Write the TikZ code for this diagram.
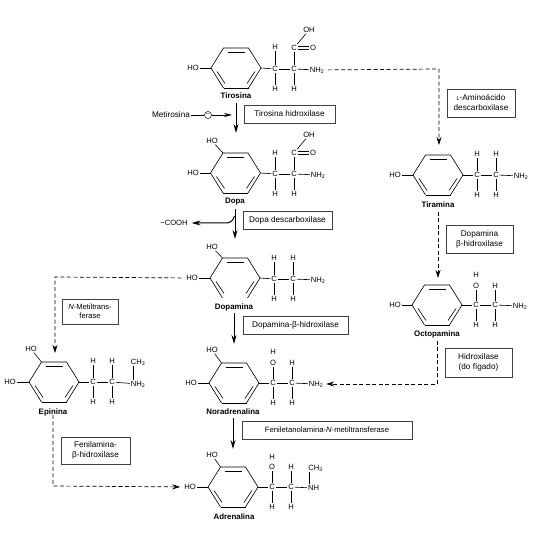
\documentclass[tikz,border=0pt]{standalone}
\usepackage{fontspec}
\usetikzlibrary{arrows.meta}
\setmainfont{Liberation Sans}
\tikzset{
  atom/.style={inner sep=0.8pt, font=\fontsize{7.6}{8}\selectfont},
  molname/.style={inner sep=1pt, font=\fontsize{7.9}{8}\selectfont\bfseries},
  enzyme/.style={draw=black!75, line width=0.8pt, inner sep=1pt, align=center, font=\fontsize{8.2}{10}\selectfont},
  bond/.style={line width=0.6pt},
  step arrow/.style={-{Stealth[length=9pt,width=5pt]}, line width=1pt},
  route/.style={-{Stealth[length=8pt,width=5pt]}, dash pattern=on 4pt off 2.5pt, line width=0.7pt},
}
% ring: name, centre x, centre y; optional key for the bottom edge
\newcommand{\molring}[4][draw]{
  \begin{scope}[shift={(#3,#4)}]
    \coordinate (#2l) at (-25,0);
    \coordinate (#2tl) at (-12.5,-20);
    \coordinate (#2tr) at (12.5,-20);
    \coordinate (#2r) at (25,0);
    \coordinate (#2br) at (12.5,20);
    \coordinate (#2bl) at (-12.5,20);
    \draw[bond] (#2bl) -- (#2l) -- (#2tl) -- (#2tr) -- (#2r) -- (#2br);
    \path[bond,#1] (#2bl) -- (#2br);
    \draw[bond] (-8.5,-16) -- (8.5,-16);
    \draw[bond] (-19,3.5) -- (-11,15.5);
    \draw[bond] (19,3.5) -- (11,15.5);
  \end{scope}
}
% two side chain carbons at x and x+19, with the lower hydrogens
\newcommand{\molchain}[3]{
  \node[atom] (#1a) at (#2,#3) {C};
  \node[atom] (#1b) at (#2+19,#3) {C};
  \node[atom] (#1ha) at (#2,#3+20) {H};
  \node[atom] (#1hb) at (#2+19,#3+20) {H};
  \draw[bond] (#1r) -- (#1a);
  \draw[bond] (#1a) -- (#1b);
  \draw[bond] (#1a) -- (#1ha);
  \draw[bond] (#1b) -- (#1hb);
}
% carbonyl drawn as two short strokes between two atoms
\newcommand{\carbonyl}[2]{
  \draw[bond] ([yshift=1.3pt]#1.east) -- ([yshift=1.3pt]#2.west);
  \draw[bond] ([yshift=-1.3pt]#1.east) -- ([yshift=-1.3pt]#2.west);
}
\begin{document}
\begin{tikzpicture}[x=1pt, y=-1pt, >=stealth]
  \useasboundingbox (0,0) rectangle (542,534);

  % Tirosina
  \molring{tir}{236}{68}
  \molchain{tir}{275}{69}
  \node[atom] (tirho) at (193,68) {HO};
  \node[atom] (tirna) at (275,47) {H};
  \node[atom] (tircx) at (294,48) {C};
  \node[atom] (tiro) at (313,48) {O};
  \node[atom] (tiroh) at (309,30) {OH};
  \node[atom] (tirnh) at (317,70) {NH\textsubscript{2}};
  \node[molname] (tirname) at (236,96) {Tirosina};
  \draw[bond] (tirho) -- (tirl);
  \draw[bond] (tira) -- (tirna);
  \draw[bond] (tirb) -- (tircx);
  \draw[bond] (tirb) -- (tirnh);
  \draw[bond] (tircx) -- (tiroh);
  \carbonyl{tircx}{tiro}

  % Dopa
  \molring{dopa}{235.5}{173}
  \molchain{dopa}{275}{174}
  \node[atom] (dopaho) at (193,173) {HO};
  \node[atom] (dopahp) at (212,141) {HO};
  \node[atom] (dopana) at (275,153) {H};
  \node[atom] (dopacx) at (294,153) {C};
  \node[atom] (dopao) at (313,153) {O};
  \node[atom] (dopaoh) at (309,135) {OH};
  \node[atom] (dopanh) at (318,175) {NH\textsubscript{2}};
  \node[molname] (dopaname) at (235,202) {Dopa};
  \draw[bond] (dopaho) -- (dopal);
  \draw[bond] (dopahp) -- (dopatl);
  \draw[bond] (dopaa) -- (dopana);
  \draw[bond] (dopab) -- (dopacx);
  \draw[bond] (dopab) -- (dopanh);
  \draw[bond] (dopacx) -- (dopaoh);
  \carbonyl{dopacx}{dopao}

  % Dopamina, its ring has no bottom edge
  \molring[]{dpm}{235}{278}
  \molchain{dpm}{274}{279}
  \node[atom] (dpmho) at (192,278) {HO};
  \node[atom] (dpmhp) at (212,247) {HO};
  \node[atom] (dpmna) at (274,258) {H};
  \node[atom] (dpmnb) at (293,258) {H};
  \node[atom] (dpmnh) at (318,280) {NH\textsubscript{2}};
  \node[molname] (dpmname) at (234,307) {Dopamina};
  \draw[bond] (dpmho) -- (dpml);
  \draw[bond] (dpmhp) -- (dpmtl);
  \draw[bond] (dpma) -- (dpmna);
  \draw[bond] (dpmb) -- (dpmnb);
  \draw[bond] (dpmb) -- (dpmnh);

  % Noradrenalina
  \molring{nor}{234}{383}
  \molchain{nor}{273}{383}
  \node[atom] (norho) at (191,383) {HO};
  \node[atom] (norhp) at (212,350) {HO};
  \node[atom] (noro) at (273,363) {O};
  \node[atom] (norhx) at (273,352) {H};
  \node[atom] (nornb) at (292,363) {H};
  \node[atom] (nornh) at (316,384) {NH\textsubscript{2}};
  \node[molname] (norname) at (233,412) {Noradrenalina};
  \draw[bond] (norho) -- (norl);
  \draw[bond] (norhp) -- (nortl);
  \draw[bond] (nora) -- (noro);
  \draw[bond] (norb) -- (nornb);
  \draw[bond] (norb) -- (nornh);

  % Adrenalina
  \molring{adr}{233}{487}
  \molchain{adr}{272}{487}
  \node[atom] (adrho) at (190,487) {HO};
  \node[atom] (adrhp) at (212,455) {HO};
  \node[atom] (adro) at (272,467) {O};
  \node[atom] (adrhx) at (272,457) {H};
  \node[atom] (adrnb) at (291,467) {H};
  \node[atom] (adrnh) at (313.5,488) {NH};
  \node[atom] (adrme) at (315.5,468) {CH\textsubscript{3}};
  \node[molname] (adrname) at (234,517) {Adrenalina};
  \draw[bond] (adrho) -- (adrl);
  \draw[bond] (adrhp) -- (adrtl);
  \draw[bond] (adra) -- (adro);
  \draw[bond] (adrb) -- (adrnb);
  \draw[bond] (adrb) -- (adrnh);
  \draw[bond] ([xshift=2.5pt]adrnh.north west) -- ([xshift=2.5pt]adrnh.north west |- adrme.south);

  % Epinina
  \molring{epi}{54}{382}
  \molchain{epi}{93}{382}
  \node[atom] (epiho) at (10,382) {HO};
  \node[atom] (epihp) at (31,349) {HO};
  \node[atom] (epina) at (93,361) {H};
  \node[atom] (epinb) at (112,361) {H};
  \node[atom] (epinh) at (138,384) {NH\textsubscript{2}};
  \node[atom] (epime) at (138,362) {CH\textsubscript{3}};
  \node[molname] (epiname) at (53,412) {Epinina};
  \draw[bond] (epiho) -- (epil);
  \draw[bond] (epihp) -- (epitl);
  \draw[bond] (epia) -- (epina);
  \draw[bond] (epib) -- (epinb);
  \draw[bond] (epib) -- (epinh);
  \draw[bond] ([xshift=4pt]epinh.north west) -- ([xshift=4pt]epinh.north west |- epime.south);

  % Tiramina
  \molring{tim}{438}{175}
  \molchain{tim}{477}{175}
  \node[atom] (timho) at (395,175) {HO};
  \node[atom] (timna) at (477,154) {H};
  \node[atom] (timnb) at (496,154) {H};
  \node[atom] (timnh) at (521,176) {NH\textsubscript{2}};
  \node[molname] (timname) at (438,205) {Tiramina};
  \draw[bond] (timho) -- (timl);
  \draw[bond] (tima) -- (timna);
  \draw[bond] (timb) -- (timnb);
  \draw[bond] (timb) -- (timnh);

  % Octopamina
  \molring{oct}{437}{305}
  \molchain{oct}{476}{305}
  \node[atom] (octho) at (395,305) {HO};
  \node[atom] (octo) at (476,286) {O};
  \node[atom] (octhx) at (476,275) {H};
  \node[atom] (octnb) at (495,286) {H};
  \node[atom] (octnh) at (520,306) {NH\textsubscript{2}};
  \node[molname] (octname) at (437,334) {Octopamina};
  \draw[bond] (octho) -- (octl);
  \draw[bond] (octa) -- (octo);
  \draw[bond] (octb) -- (octnb);
  \draw[bond] (octb) -- (octnh);

  % enzymes
  \node[enzyme, minimum width=91pt, minimum height=18pt] (ezth) at (289.5,114) {Tirosina hidroxilase};
  \node[enzyme, minimum width=89pt, minimum height=18pt] (ezdd) at (287.5,220) {Dopa descarboxilase};
  \node[enzyme, minimum width=105pt, minimum height=18pt] (ezdb) at (295.5,325) {Dopamina-β-hidroxilase};
  \node[enzyme, minimum width=170pt, minimum height=18pt, font=\fontsize{7.7}{9}\selectfont] (ezfm) at (327,430) {Feniletanolamina-\textit{N}-metiltransferase};
  \node[enzyme, minimum width=56pt, minimum height=25pt, font=\fontsize{7.6}{9}\selectfont] (eznm) at (90,311.5) {\textit{N}-Metiltrans-\\ferase};
  \node[enzyme, minimum width=69pt, minimum height=27pt] (ezfb) at (95.5,450.5) {Fenilamina-\\β-hidroxilase};
  \node[enzyme, minimum width=68pt, minimum height=28pt] (ezla) at (481,103) {{\fontsize{5.5}{9}\selectfont L}-Aminoácido\\descarboxilase};
  \node[enzyme, minimum width=67pt, minimum height=28pt] (ezbh) at (479.5,239) {Dopamina\\β-hidroxilase};
  \node[enzyme, minimum width=67pt, minimum height=29pt] (ezhf) at (478.5,362.5) {Hidroxilase\\(do fígado)};

  % main route
  \coordinate (tirs) at (236,103);
  \coordinate (dopan) at (236,133);
  \coordinate (dopas) at (235,209);
  \coordinate (dpmn) at (235,239);
  \coordinate (dpms) at (234,313);
  \coordinate (norn) at (234,344);
  \coordinate (nors) at (233,418);
  \coordinate (adrn) at (233,449);
  \draw[step arrow] (tirs) -- (dopan);
  \draw[step arrow] (dopas) -- (dpmn);
  \draw[step arrow] (dpms) -- (norn);
  \draw[step arrow] (nors) -- (adrn);

  % inhibitor and side product
  \node[inner sep=1pt, font=\fontsize{8.2}{9}\selectfont] (metir) at (171,115) {Metirosina};
  \node[draw, circle, line width=0.5pt, inner sep=0pt, minimum size=7pt, font=\fontsize{6.5}{6}\selectfont] (minus) at (208,115) {−};
  \coordinate (metirend) at (232,115);
  \draw[bond] (metir) -- (minus);
  \draw[-{Stealth[length=8pt,width=4pt]}, line width=0.7pt] (minus) -- (metirend);
  \node[atom] (cooh) at (174,223) {−COOH};
  \coordinate (coohfork) at (234.5,216);
  \coordinate (coohbend) at (226,223);
  \draw[step arrow, shorten >=3pt] (coohfork) .. controls (233,221) and (230,223) .. (coohbend) -- (cooh);

  % dashed routes
  \coordinate (tirtim) at (439,69);
  \coordinate (timn) at (439,145);
  \coordinate (tims) at (438,212);
  \coordinate (octn) at (438,278);
  \coordinate (octs) at (437,341);
  \coordinate (octnor) at (437,384);
  \coordinate (dpmepi) at (55,277);
  \coordinate (epin) at (55,353);
  \coordinate (epis) at (53,415);
  \coordinate (epiadr) at (53,486);
  \draw[route, shorten <=3pt] (tirnh) -- (tirtim) -- (timn);
  \draw[route] (tims) -- (octn);
  \draw[route, shorten >=2pt] (octs) -- (octnor) -- (nornh);
  \draw[route, shorten <=4pt] (dpmho) -- (dpmepi) -- (epin);
  \draw[route, shorten >=3pt] (epis) -- (epiadr) -- (adrho);
\end{tikzpicture}
\end{document}
